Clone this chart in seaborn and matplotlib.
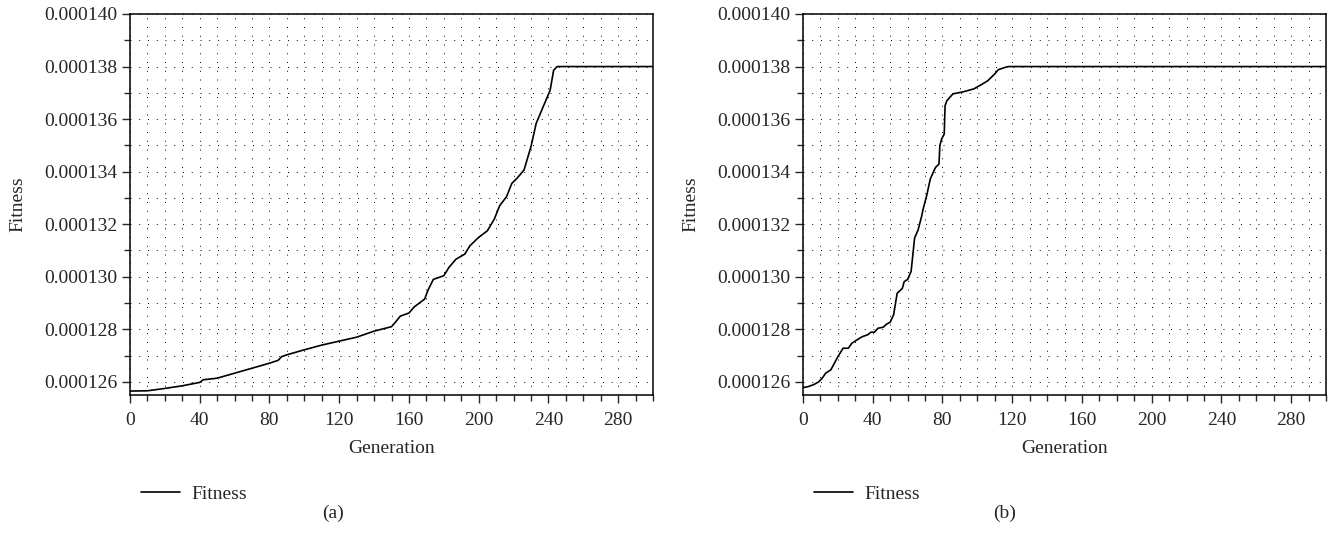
import matplotlib
matplotlib.use("Agg")
import matplotlib.pyplot as plt
from matplotlib.ticker import MultipleLocator, FormatStrFormatter
import seaborn as sns
import pandas as pd

# generation / fitness (read in units of 1e-6)
gen_a = [0, 10, 20, 30, 40, 42, 50, 60, 70, 80,
         85, 87, 90, 100, 110, 120, 130, 140, 150, 152,
         155, 160, 163, 165, 169, 171, 174, 180, 183, 187,
         192, 195, 200, 205, 209, 212, 216, 219, 222, 226,
         230, 233, 237, 241, 243, 245, 300]
fit_a = [125.65, 125.66, 125.75, 125.85, 125.98, 126.08, 126.14, 126.33, 126.52, 126.71,
         126.82, 126.96, 127.03, 127.22, 127.4, 127.55, 127.7, 127.93, 128.1, 128.25,
         128.5, 128.62, 128.85, 128.95, 129.15, 129.5, 129.9, 130.04, 130.36, 130.67,
         130.86, 131.18, 131.5, 131.75, 132.2, 132.7, 133.05, 133.55, 133.75, 134.06,
         134.95, 135.84, 136.47, 137.1, 137.86, 138.0, 138.0]

gen_b = [0, 3, 6, 9, 11, 13, 16, 18, 20, 23,
         26, 28, 31, 34, 37, 39, 41, 43, 46, 48,
         50, 52, 54, 57, 58, 60, 62, 63, 64, 66,
         68, 69, 71, 73, 76, 78, 78.5, 79.5, 81, 81.5,
         82.5, 86, 92, 98, 102, 106, 110, 112, 116, 118,
         300]
fit_b = [125.78, 125.82, 125.89, 126.0, 126.14, 126.33, 126.46, 126.71, 126.96, 127.28,
         127.28, 127.47, 127.6, 127.72, 127.79, 127.89, 127.89, 128.04, 128.08, 128.2,
         128.27, 128.56, 129.37, 129.56, 129.81, 129.9, 130.2, 130.83, 131.47, 131.78,
         132.29, 132.6, 133.1, 133.72, 134.16, 134.29, 134.99, 135.24, 135.43, 136.51,
         136.7, 136.96, 137.04, 137.15, 137.3, 137.46, 137.72, 137.88, 137.97, 138.0,
         138.0]

panels = [("(a)", gen_a, fit_a), ("(b)", gen_b, fit_b)]

sns.set_style("ticks")
plt.rcParams["font.family"] = ["Liberation Serif", "DejaVu Serif"]
plt.rcParams["font.size"] = 14

fig = plt.figure(figsize=(13.3, 5.46), dpi=100)
lefts = [130 / 1330, 803 / 1330]
tag_x = [333 / 1330, 1005 / 1330]

for left, tx, (tag, gen, fit) in zip(lefts, tag_x, panels):
    ax = fig.add_axes([left, 1 - 395 / 546, 523 / 1330, 381 / 546])
    df = pd.DataFrame({"Generation": gen, "Fitness": [v * 1e-6 for v in fit]})
    sns.lineplot(data=df, x="Generation", y="Fitness", ax=ax, color="black",
                 lw=1.2, label="Fitness", sort=False)

    ax.set_xlim(0, 300)
    ax.set_ylim(0.0001255, 0.000140)
    ax.xaxis.set_major_locator(MultipleLocator(40))
    ax.xaxis.set_minor_locator(MultipleLocator(10))
    ax.yaxis.set_major_locator(MultipleLocator(0.000002))
    ax.yaxis.set_minor_locator(MultipleLocator(0.000001))
    ax.yaxis.set_major_formatter(FormatStrFormatter("%.6f"))
    ax.tick_params(which="major", direction="out", length=6, width=1, labelsize=14)
    ax.tick_params(which="minor", direction="out", length=4, width=1)
    ax.tick_params(axis="x", which="major", pad=6)
    ax.tick_params(axis="y", which="major", pad=3)
    ax.grid(which="both", color="black", lw=0.7, linestyle=(0, (1, 8)))
    for s in ax.spines.values():
        s.set_linewidth(1.1)
        s.set_color("black")

    ax.set_xlabel("Generation", fontsize=14, labelpad=8)
    ax.set_ylabel("Fitness", fontsize=14, labelpad=13)
    ax.legend(loc="upper left", bbox_to_anchor=(-0.012, -0.19), frameon=False,
              handlelength=2.0, handletextpad=0.6, fontsize=14)
    fig.text(tx, 1 - 513 / 546, tag, ha="center", va="center", fontsize=14)

fig.savefig("out.png", dpi=100)
